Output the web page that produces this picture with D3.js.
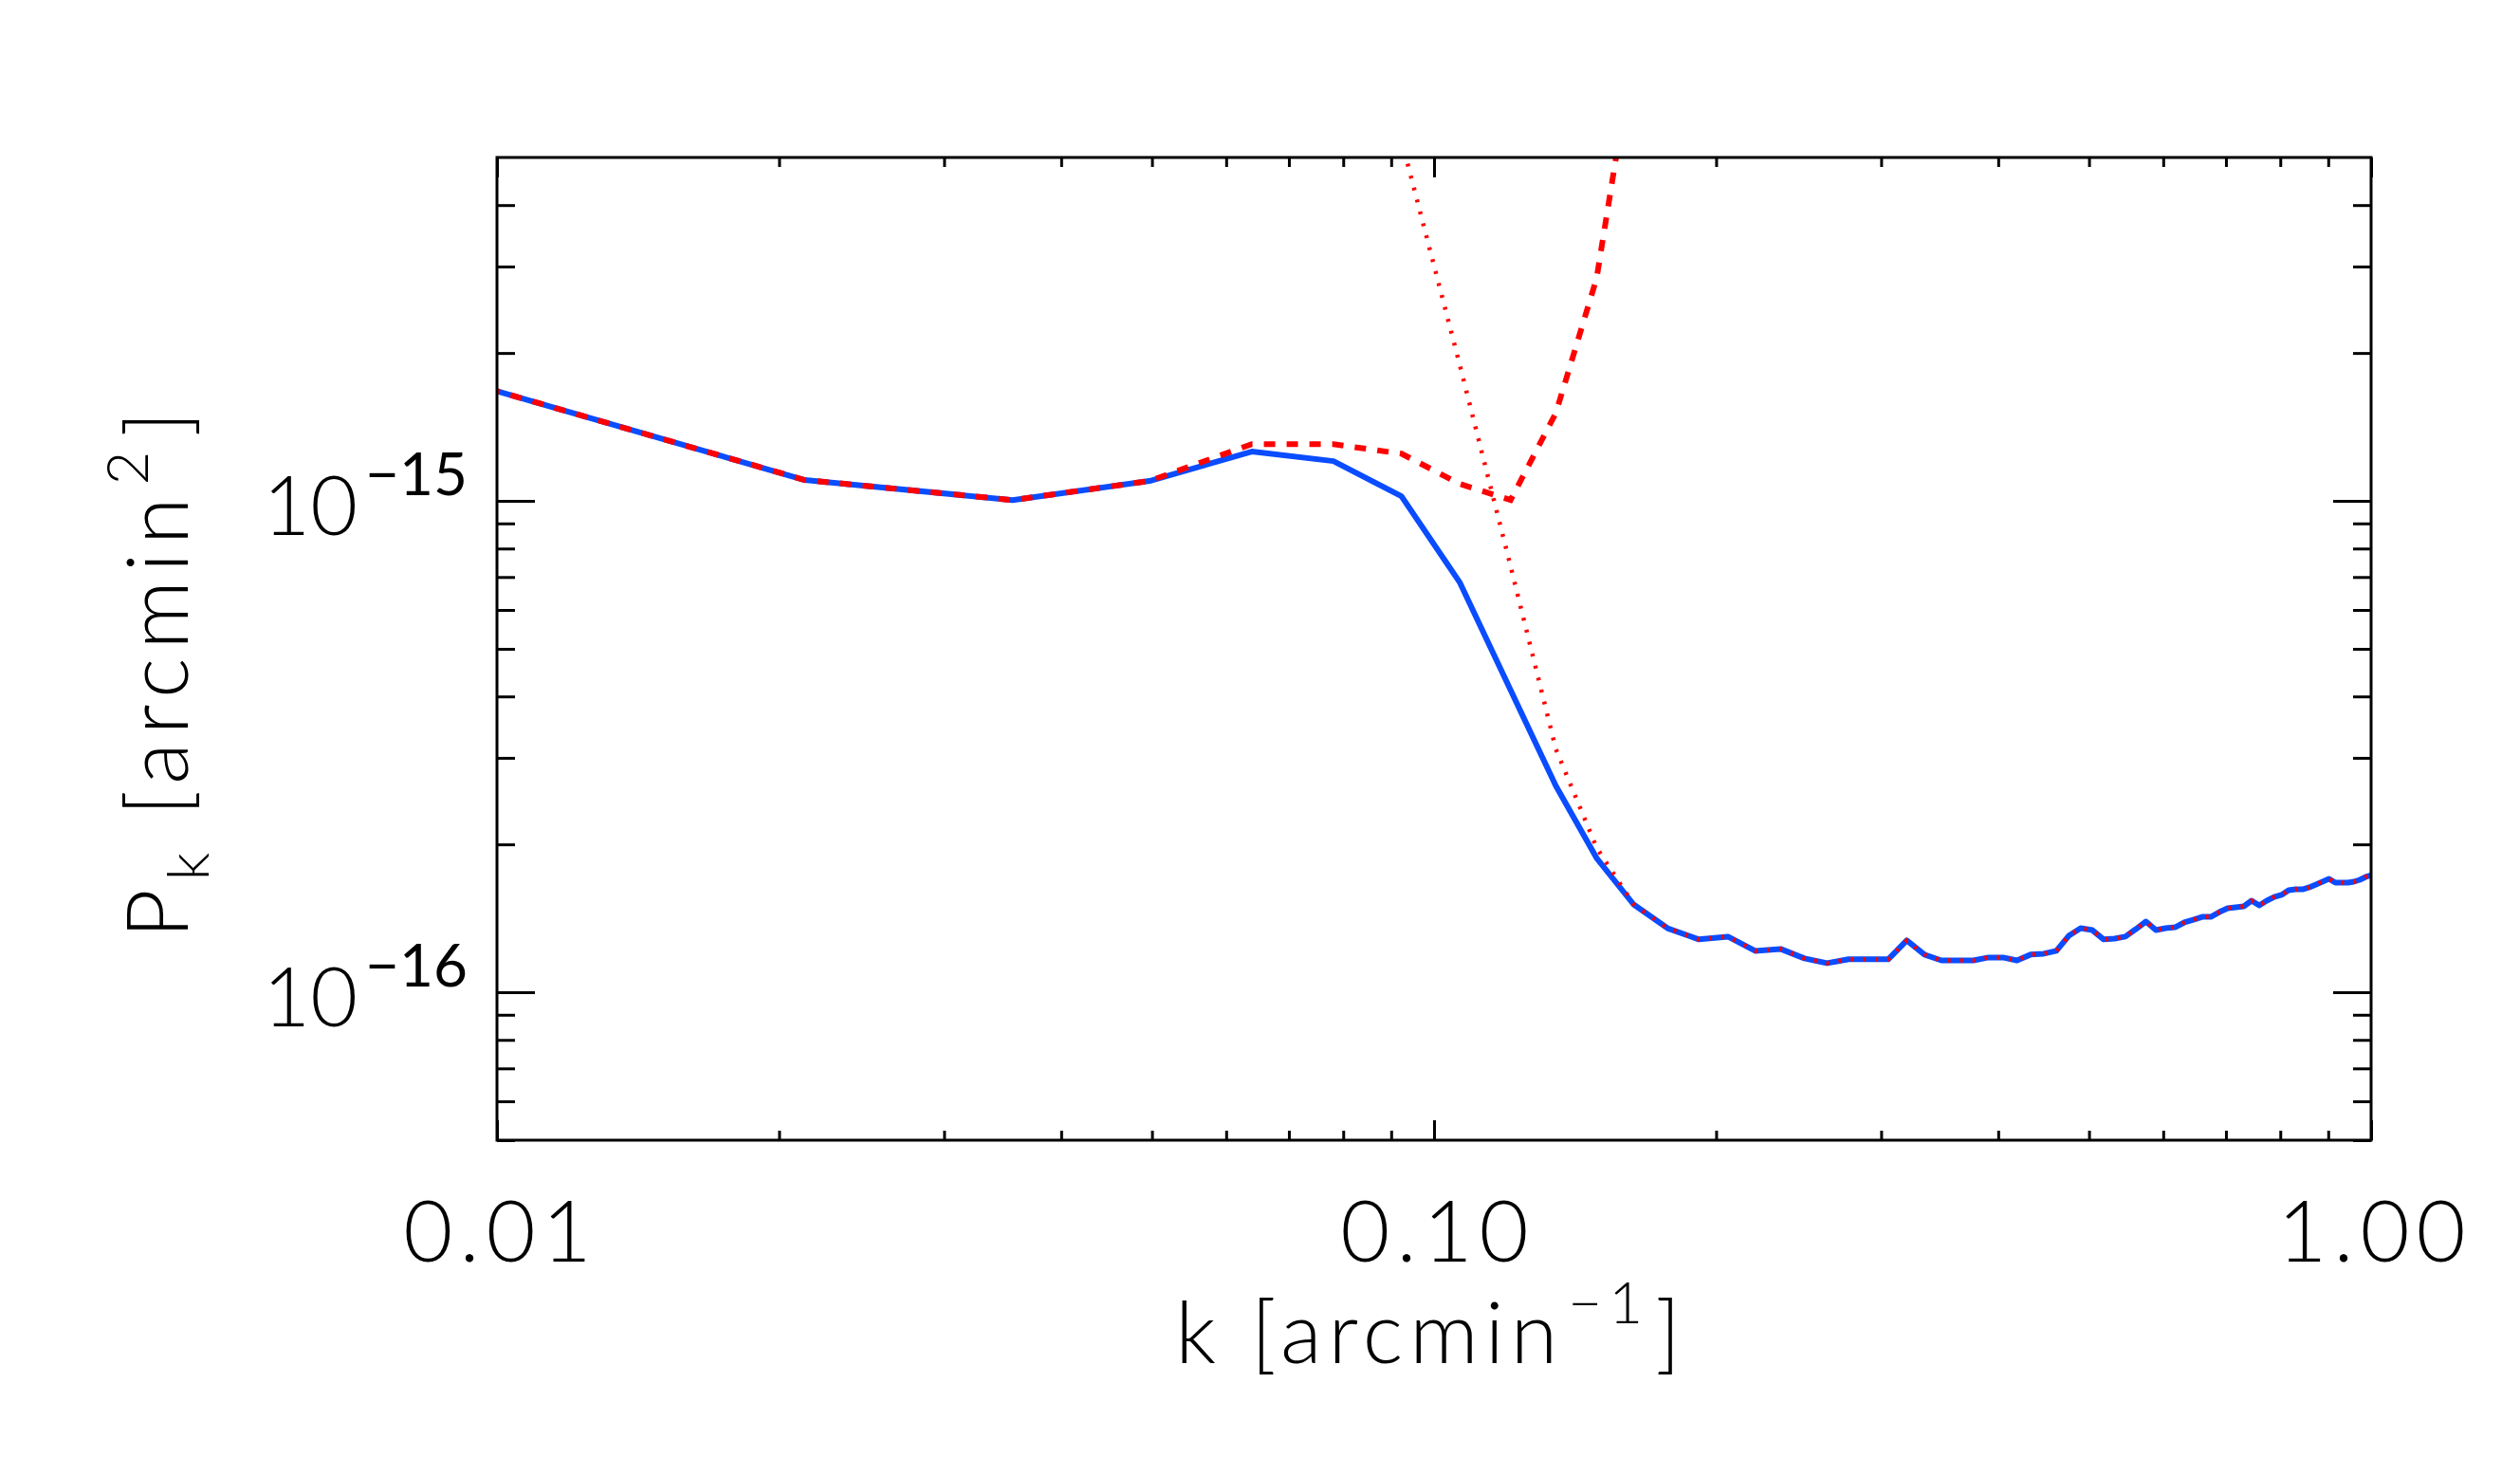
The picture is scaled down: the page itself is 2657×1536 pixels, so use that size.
<!DOCTYPE html>
<html>
<head>
<meta charset="utf-8">
<script src="https://cdn.jsdelivr.net/npm/d3@7"></script>
<style>
  html, body { margin: 0; padding: 0; background: #fff; }
  svg text { font-family: "Lato", "DejaVu Sans", sans-serif; font-weight: 300; fill: #000; }
</style>
</head>
<body>
<svg id="chart"></svg>
<script>
// --- data ---

// k grid [arcmin^-1]
const kValues = [
  0.0071, 0.0213, 0.0355, 0.0497, 0.0639, 0.0781, 0.0923, 0.1065, 0.1207, 0.1349,
  0.1491, 0.1633, 0.1775, 0.1917, 0.2059, 0.2201, 0.2343, 0.2485, 0.2627, 0.2769,
  0.2911, 0.3053, 0.3195, 0.3337, 0.3479, 0.3621, 0.3763, 0.3905, 0.4047, 0.4189,
  0.4331, 0.4473, 0.4615, 0.4757, 0.4899, 0.5041, 0.5183, 0.5325, 0.5467, 0.5609,
  0.5751, 0.5893, 0.6035, 0.6177, 0.6319, 0.6461, 0.6603, 0.6745, 0.6887, 0.7029,
  0.7171, 0.7313, 0.7455, 0.7597, 0.7739, 0.7881, 0.8023, 0.8165, 0.8307, 0.8449,
  0.8591, 0.8733, 0.8875, 0.9017, 0.9159, 0.9301, 0.9443, 0.9585, 0.9727, 0.9869,
  1.0011
];

// P_k in units of 1e-16 arcmin^2
const blueP = [
  20.2, 11.03, 10.04, 10.98, 12.6, 12.05, 10.22, 6.83, 4.12, 2.63,
  1.876, 1.509, 1.350, 1.281, 1.298, 1.214, 1.225, 1.172, 1.146, 1.167,
  1.167, 1.167, 1.275, 1.193, 1.161, 1.161, 1.161, 1.177, 1.177, 1.161,
  1.193, 1.198, 1.214, 1.303, 1.350, 1.338, 1.281, 1.286, 1.298, 1.344,
  1.393, 1.338, 1.350, 1.356, 1.387, 1.405, 1.424, 1.424, 1.456, 1.483,
  1.489, 1.496, 1.536, 1.502, 1.536, 1.563, 1.578, 1.613, 1.620, 1.620,
  1.635, 1.657, 1.679, 1.702, 1.671, 1.671, 1.671, 1.679, 1.694, 1.717,
  1.732
];

// red dashed curve, first 12 k values
const dashedP = [20.2, 11.03, 10.04, 10.98, 13.05, 13.04, 12.48, 10.83, 10.04, 15.1, 28.38, 83.5];

// red dotted curve: starts at k index 6, joins the blue curve from index 11 on
const dottedStart = 6;
const dottedHead = [54.3, 18.95, 7.36, 3.126, 1.969];
const dottedP = dottedHead.concat(blueP.slice(11));

const xMajor = [0.01, 0.1, 1];
const xMajorLabels = ["0.01", "0.10", "1.00"];
const yMajor = [1e-16, 1e-15];
const yMajorExp = ["−16", "−15"];

// --- layout ---
const width = 2657;
const height = 1536;
const plotLeft = 524, plotRight = 2500, plotTop = 166, plotBottom = 1202;
const fontSize = 90, supSize = 62;

const svg = d3.select("#chart")
    .attr("width", width)
    .attr("height", height)
    .attr("viewBox", [0, 0, width, height]);

const x = d3.scaleLog().domain([0.01, 1]).range([plotLeft, plotRight]);
const y = d3.scaleLog().domain([5e-17, 5e-15]).range([plotBottom, plotTop]);

// minor ticks 2..9 in each decade
const xMinor = [];
[0.01, 0.1].forEach(d => { for (let m = 2; m <= 9; m++) xMinor.push(d * m); });
const yMinor = [];
[1e-17, 1e-16, 1e-15].forEach(d => { for (let m = 2; m <= 9; m++) { const v = d * m; if (v >= 5e-17 && v <= 5e-15) yMinor.push(v); } });

svg.append("defs").append("clipPath").attr("id", "plot-clip")
  .append("rect")
    .attr("x", plotLeft).attr("y", plotTop)
    .attr("width", plotRight - plotLeft).attr("height", plotBottom - plotTop);

// --- curves ---
const toPts = (vals, start) => vals.map((v, i) => [kValues[start + i], v * 1e-16]);
const line = d3.line().x(d => x(d[0])).y(d => y(d[1]));

const curves = svg.append("g").attr("clip-path", "url(#plot-clip)").attr("fill", "none");

curves.append("path")
    .attr("d", line(toPts(blueP, 0)))
    .attr("stroke", "#0a4cff")
    .attr("stroke-width", 6)
    .attr("stroke-linejoin", "round");

curves.append("path")
    .attr("d", line(toPts(dashedP, 0)))
    .attr("stroke", "#ff0000")
    .attr("stroke-width", 6)
    .attr("stroke-dasharray", "12,12");

curves.append("path")
    .attr("d", line(toPts(dottedP, dottedStart)))
    .attr("stroke", "#ff0000")
    .attr("stroke-width", 4.5)
    .attr("stroke-dasharray", "3,10");

// --- axes (ticks point inward on all four sides) ---
function ticks(g) {
  g.select(".domain").remove();
  g.selectAll(".tick line").attr("stroke", "#000").attr("stroke-width", 3);
  g.selectAll(".tick text").remove();
}

svg.append("g").attr("transform", `translate(0,${plotBottom})`)
    .call(d3.axisBottom(x).tickValues(xMajor).tickSize(-21)).call(ticks);
svg.append("g").attr("transform", `translate(0,${plotBottom})`)
    .call(d3.axisBottom(x).tickValues(xMinor).tickSize(-10)).call(ticks);
svg.append("g").attr("transform", `translate(0,${plotTop})`)
    .call(d3.axisTop(x).tickValues(xMajor).tickSize(-21)).call(ticks);
svg.append("g").attr("transform", `translate(0,${plotTop})`)
    .call(d3.axisTop(x).tickValues(xMinor).tickSize(-10)).call(ticks);

svg.append("g").attr("transform", `translate(${plotLeft},0)`)
    .call(d3.axisLeft(y).tickValues(yMajor).tickSize(-40)).call(ticks);
svg.append("g").attr("transform", `translate(${plotLeft},0)`)
    .call(d3.axisLeft(y).tickValues(yMinor).tickSize(-19)).call(ticks);
svg.append("g").attr("transform", `translate(${plotRight},0)`)
    .call(d3.axisRight(y).tickValues(yMajor).tickSize(-40)).call(ticks);
svg.append("g").attr("transform", `translate(${plotRight},0)`)
    .call(d3.axisRight(y).tickValues(yMinor).tickSize(-19)).call(ticks);

svg.append("rect")
    .attr("x", plotLeft).attr("y", plotTop)
    .attr("width", plotRight - plotLeft).attr("height", plotBottom - plotTop)
    .attr("fill", "none").attr("stroke", "#000").attr("stroke-width", 3);

// --- tick labels ---
svg.append("g").selectAll("text")
  .data(xMajor)
  .join("text")
    .attr("x", d => x(d) + 4)
    .attr("y", 1330)
    .attr("text-anchor", "middle")
    .attr("font-size", fontSize)
    .attr("letter-spacing", 7)
    .text((d, i) => xMajorLabels[i]);

const yLab = svg.append("g").selectAll("text")
  .data(yMajor)
  .join("text")
    .attr("x", 493)
    .attr("y", d => y(d) + 36)
    .attr("text-anchor", "end")
    .attr("font-size", 86);
yLab.append("tspan").text("10");
yLab.append("tspan")
    .attr("font-size", supSize)
    .attr("font-weight", 400)
    .attr("dx", 8)
    .attr("dy", -42)
    .text((d, i) => yMajorExp[i]);

// --- axis titles ---
const xTitle = svg.append("text")
    .attr("x", 1509)
    .attr("y", 1437)
    .attr("text-anchor", "middle")
    .attr("font-size", fontSize)
    .attr("letter-spacing", 7);
xTitle.append("tspan").text("k");
xTitle.append("tspan").attr("dx", 30).text("[arcmin");
xTitle.append("tspan").attr("font-size", supSize).attr("dy", -42).attr("dx", 4).text("−1");
xTitle.append("tspan").attr("dy", 42).attr("dx", 6).text("]");

const yTitle = svg.append("text")
    .attr("transform", "translate(198,707) rotate(-90)")
    .attr("text-anchor", "middle")
    .attr("font-size", fontSize)
    .attr("letter-spacing", 9);
yTitle.append("tspan").text("P");
yTitle.append("tspan").attr("font-size", supSize).attr("dy", 22).text("k");
yTitle.append("tspan").attr("dy", -22).attr("dx", 30).text("[arcmin");
yTitle.append("tspan").attr("font-size", supSize).attr("dy", -42).attr("dx", 4).text("2");
yTitle.append("tspan").attr("dy", 42).attr("dx", 6).text("]");
</script>
</body>
</html>
